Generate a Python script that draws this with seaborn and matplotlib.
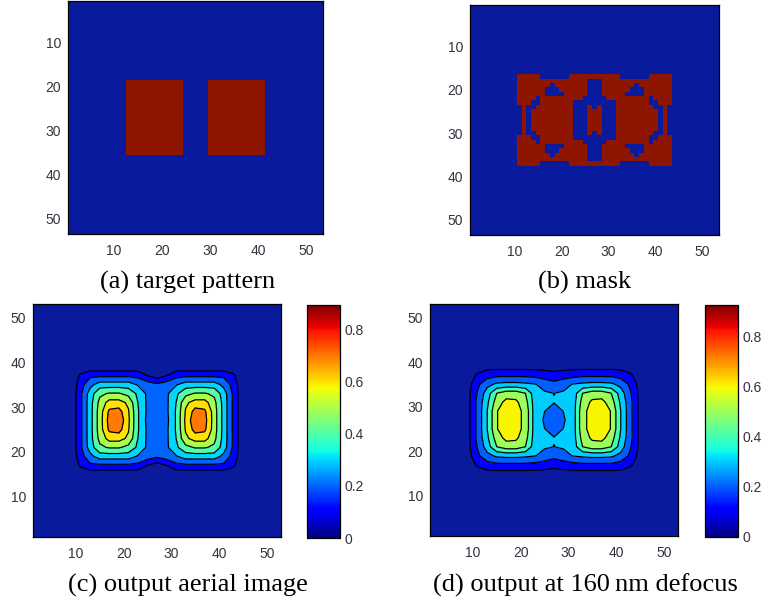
import numpy as np
import matplotlib
matplotlib.use('Agg')
import matplotlib.pyplot as plt
import seaborn as sns
from matplotlib.colors import ListedColormap, Normalize
from matplotlib.cm import ScalarMappable

sns.set_style('white')
plt.rcParams['font.family'] = ['Liberation Sans Narrow', 'Liberation Sans', 'DejaVu Sans']

N = 53
ticks = [10, 20, 30, 40, 50]

# (a) target pattern: two opaque rectangles, 1-based inclusive pixel ranges
target_rows = (19, 35)
target_cols = [(13, 24), (30, 41)]

# (b) mask: upper-left quadrant (rows 17..27, cols 11..27), '#' = opaque
mask_row0, mask_col0 = 17, 11
mask_quadrant = [
    "#####......######",
    "###############..",
    "#######.#######..",
    "######...######..",
    "######....#####..",
    "####.#########...",
    "###..#######.....",
    ".#..########...#.",
    ".#.#########...##",
    ".#.#########...##",
    ".#.#########...##",
]

# (c)/(d) aerial image, lower-left quadrant sampled every 2 px
# columns: x = 9, 11, ..., 27 ; rows: distance from centre row (y = 27) = 0, 2, ..., 12
aerial_x0 = 9
aerial_focus = [
    [0.02, 0.18, 0.36, 0.55, 0.74, 0.78, 0.62, 0.41, 0.27, 0.25],
    [0.02, 0.18, 0.36, 0.55, 0.72, 0.74, 0.61, 0.41, 0.28, 0.26],
    [0.02, 0.18, 0.36, 0.53, 0.64, 0.64, 0.58, 0.40, 0.28, 0.27],
    [0.02, 0.18, 0.35, 0.48, 0.51, 0.51, 0.47, 0.38, 0.28, 0.26],
    [0.02, 0.16, 0.27, 0.35, 0.35, 0.35, 0.35, 0.29, 0.25, 0.22],
    [0.01, 0.12, 0.18, 0.18, 0.18, 0.18, 0.18, 0.17, 0.10, 0.05],
    [0.00, 0.03, 0.03, 0.03, 0.03, 0.03, 0.03, 0.03, 0.01, 0.00],
]
aerial_defocus = [
    [0.07, 0.23, 0.40, 0.595, 0.65, 0.64, 0.57, 0.35, 0.29, 0.25],
    [0.07, 0.23, 0.40, 0.595, 0.65, 0.64, 0.57, 0.35, 0.302, 0.27],
    [0.07, 0.23, 0.38, 0.55, 0.63, 0.62, 0.54, 0.35, 0.32, 0.303],
    [0.07, 0.21, 0.35, 0.50, 0.55, 0.55, 0.50, 0.34, 0.31, 0.299],
    [0.06, 0.18, 0.27, 0.32, 0.33, 0.33, 0.32, 0.305, 0.27, 0.23],
    [0.04, 0.12, 0.16, 0.18, 0.18, 0.18, 0.18, 0.17, 0.15, 0.14],
    [0.01, 0.04, 0.06, 0.06, 0.06, 0.06, 0.06, 0.06, 0.06, 0.05],
]
contour_levels = [0.1, 0.2, 0.3, 0.4, 0.5, 0.6, 0.7, 0.8]
cbar_max = {'c': 0.896, 'd': 0.924}
cbar_ticks = [0, 0.2, 0.4, 0.6, 0.8]

titles = {
    'a': '(a) target pattern',
    'b': '(b) mask',
    'c': '(c) output aerial image',
    'd': '(d) output at 160\u2009nm defocus',
}

BLUE = '#0A1A9C'
RED = '#8E1500'
TICK_COLOR = '#3a3040'
SERIF = ['Liberation Serif', 'DejaVu Serif']


def build_target():
    img = np.zeros((N, N))
    r0, r1 = target_rows
    for c0, c1 in target_cols:
        img[r0 - 1:r1, c0 - 1:c1] = 1
    return img


def build_mask():
    img = np.zeros((N, N))
    for k, line in enumerate(mask_quadrant):
        r = mask_row0 + k
        for m, ch in enumerate(line):
            c = mask_col0 + m
            if ch == '#':
                for rr in {r, N + 1 - r}:
                    for cc in {c, N + 1 - c}:
                        img[rr - 1, cc - 1] = 1
    return img


def build_field(quad):
    n = (N + 1) // 2  # 27 samples at x = 1, 3, ..., 53
    field = np.zeros((n, n))
    centre = n // 2
    i0 = (aerial_x0 - 1) // 2
    for k, row in enumerate(quad):
        for m, v in enumerate(row):
            i = i0 + m
            for j in {centre - k, centre + k}:
                field[j, i] = v
                field[j, n - 1 - i] = v
    return field


def style_axes(ax):
    for s in ax.spines.values():
        s.set_visible(True)
        s.set_color('black')
        s.set_linewidth(0.9)
    ax.tick_params(which='both', direction='in', length=3, width=0.8,
                   top=True, right=True, bottom=True, left=True,
                   color='black', labelcolor=TICK_COLOR, labelsize=10, pad=5)
    ax.tick_params(axis='x', pad=7)


def draw_binary(ax, img):
    sns.heatmap(img, ax=ax, cmap=ListedColormap([BLUE, RED]), vmin=0, vmax=1,
                cbar=False, xticklabels=False, yticklabels=False)
    ax.set_xticks(np.array(ticks) - 0.5, [str(t) for t in ticks])
    ax.set_yticks(np.array(ticks) - 0.5, [str(t) for t in ticks], rotation=0)
    style_axes(ax)


def draw_contour(ax, cax, field, vmax):
    jet = plt.get_cmap('jet')
    grid = np.arange(1, N + 1, 2)
    levels = [0] + contour_levels + [1.0]
    colors = [BLUE] + [jet(lv / vmax) for lv in contour_levels]
    ax.contourf(grid, grid, field, levels=levels, colors=colors)
    ax.contour(grid, grid, field, levels=contour_levels, colors='black',
               linewidths=0.9)
    ax.set_xlim(1, N)
    ax.set_ylim(1, N)
    ax.set_xticks(ticks)
    ax.set_yticks(ticks)
    style_axes(ax)

    cb = plt.colorbar(ScalarMappable(norm=Normalize(0, vmax), cmap=jet), cax=cax)
    cb.set_ticks(cbar_ticks, labels=['0', '0.2', '0.4', '0.6', '0.8'])
    cb.outline.set_edgecolor('black')
    cb.outline.set_linewidth(0.9)
    cax.tick_params(direction='in', length=3, width=0.8, left=True, right=True,
                    color='black', labelcolor=TICK_COLOR, labelsize=10, pad=3)


W, H = 764, 604
fig = plt.figure(figsize=(W / 100, H / 100), dpi=100)


def px_axes(left, top, right, bottom):
    return fig.add_axes([left / W, 1 - bottom / H, (right - left) / W, (bottom - top) / H])


ax_a = px_axes(68, 1, 323, 234)
ax_b = px_axes(470, 5, 719, 235)
ax_c = px_axes(33, 304, 281, 537)
cax_c = px_axes(307, 305, 340, 538)
ax_d = px_axes(430, 304, 678, 536)
cax_d = px_axes(705, 305, 738, 537)

draw_binary(ax_a, build_target())
draw_binary(ax_b, build_mask())
draw_contour(ax_c, cax_c, build_field(aerial_focus), cbar_max['c'])
draw_contour(ax_d, cax_d, build_field(aerial_defocus), cbar_max['d'])

for key, (x, y) in {'a': (188, 288.5), 'b': (585, 288.5),
                    'c': (188, 591.5), 'd': (585, 591.5)}.items():
    fig.text(x / W, 1 - y / H, titles[key], ha='center', va='baseline',
             fontsize=19, family=SERIF, color='black')

fig.savefig('out.png', dpi=100)
